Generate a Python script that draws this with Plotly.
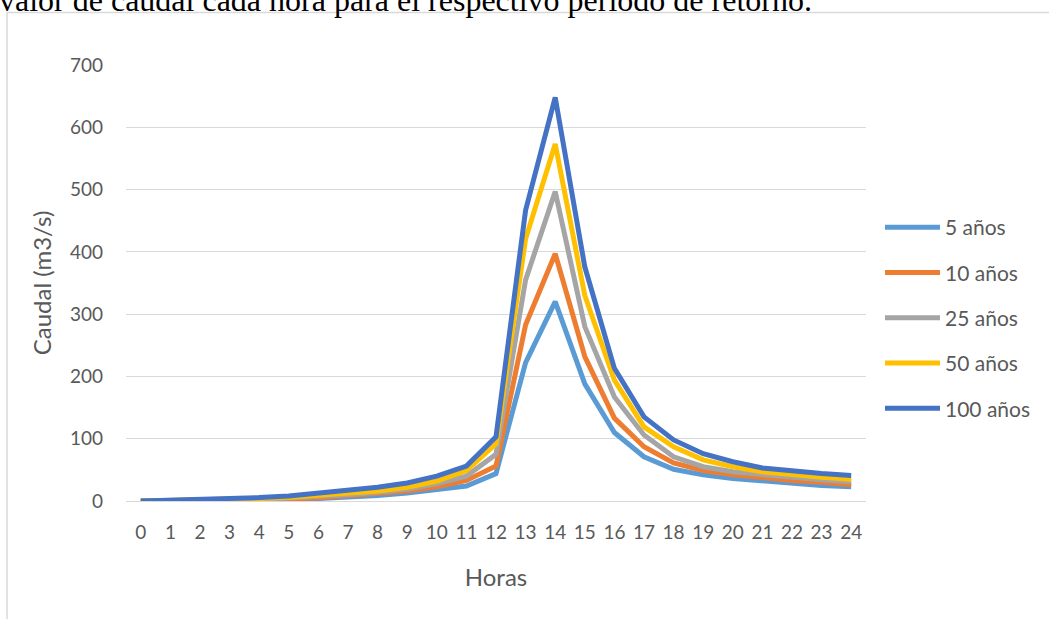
import plotly.graph_objects as go

# Hourly discharge hydrographs for each return period
horas = list(range(25))
periodos = ["5 años", "10 años", "25 años", "50 años", "100 años"]
q_5 = [0, 0.2, 0.5, 1, 1.5, 2.5, 4, 6, 9, 13, 18, 24, 44, 222, 320, 188, 110, 71, 51, 42, 36, 32, 28, 25, 23]
q_10 = [0, 0.3, 0.8, 1.3, 2.2, 3.5, 5, 8, 11, 16, 23, 33, 56, 283, 397, 232, 133, 87, 61, 49, 42, 37, 33, 30, 26]
q_25 = [0, 0.5, 1, 2, 3, 5, 7, 10, 14, 19, 28, 40, 75, 355, 497, 280, 167, 106, 71, 55, 47, 42, 37, 34, 31]
q_50 = [0, 0.7, 1.5, 2.5, 4, 6, 9, 12, 16, 22, 32, 49, 92, 421, 573, 330, 194, 119, 87, 66, 55, 47, 42, 38, 35]
q_100 = [0, 1, 2, 3.5, 5.5, 8, 12, 16, 22, 29, 40, 56, 103, 467, 648, 376, 213, 135, 98, 76, 63, 53, 48, 44, 41]
series = [q_5, q_10, q_25, q_50, q_100]
colores = ["#5B9BD5", "#ED7D31", "#A5A5A5", "#FFC000", "#4472C4"]
y_ticks = [0, 100, 200, 300, 400, 500, 600, 700]

W, H = 1049, 619
L, R, T, B = 126, 183, 65, 118
pw, ph = W - L - R, H - T - B


def px_x(p):
    return (p - L) / pw


def px_y(p):
    return (H - B - p) / ph


fig = go.Figure()
for nombre, vals, col in zip(periodos, series, colores):
    fig.add_trace(go.Scatter(
        x=horas, y=vals, name=nombre, mode="lines",
        legendgroup=nombre,
        line=dict(color=col, width=5),
    ))

font_main = "Lato, 'Open Sans', sans-serif"
gris = "#595959"

fig.update_layout(
    width=W, height=H,
    margin=dict(l=L, r=R, t=T, b=B, pad=0),
    paper_bgcolor="white", plot_bgcolor="white",
    font=dict(family=font_main, color=gris, size=19),
    xaxis=dict(
        range=[-0.5, 24.5], tickmode="array", tickvals=horas,
        ticktext=[str(h) for h in horas],
        showgrid=False, zeroline=False, showline=False,
        ticks="", ticklabelstandoff=18,
        tickfont=dict(size=19, color=gris),
        title=dict(text="Horas", font=dict(size=24, color=gris), standoff=27),
    ),
    yaxis=dict(
        range=[0, 700], tickmode="array", tickvals=y_ticks,
        showgrid=True, gridcolor="#D9D9D9", gridwidth=1.3,
        zeroline=True, zerolinecolor="#D9D9D9", zerolinewidth=1.3,
        showline=False, ticks="", ticklabelstandoff=22,
        tickfont=dict(size=19, color=gris),
        title=dict(text="Caudal (m3/s)", font=dict(size=24, color=gris), standoff=11),
    ),
    legend=dict(
        x=px_x(880), y=px_y(318), xanchor="left", yanchor="middle",
        font=dict(size=21, color=gris),
        tracegroupgap=15, itemwidth=55,
        bgcolor="rgba(0,0,0,0)",
    ),
    showlegend=True,
)

# Frame around the chart
fig.add_shape(
    type="rect", xref="paper", yref="paper",
    x0=px_x(7), x1=px_x(1070), y0=px_y(12.5), y1=px_y(640),
    line=dict(color="#D9D9D9", width=1.5), fillcolor="rgba(0,0,0,0)",
    layer="below",
)

# Document sentence running above the chart
fig.add_annotation(
    text="valor de caudal cada hora para el respectivo período de retorno.",
    xref="paper", yref="paper", x=px_x(-3), y=px_y(20),
    xanchor="left", yanchor="bottom", showarrow=False,
    font=dict(family="'Liberation Serif', 'Times New Roman', serif", size=32, color="black"),
)

fig.write_html("out.html")
